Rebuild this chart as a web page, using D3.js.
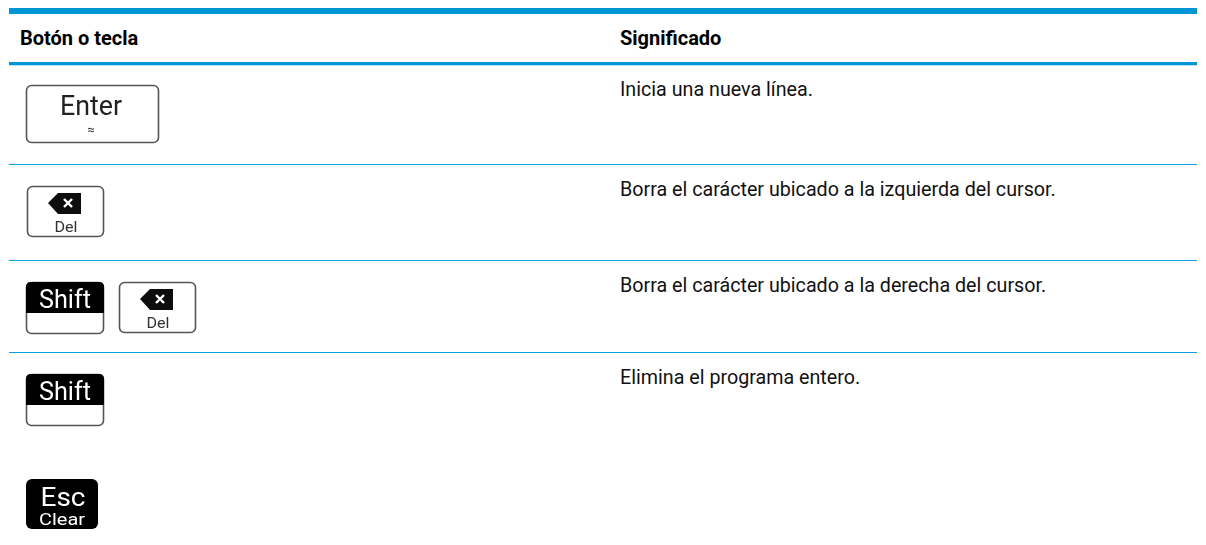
<!DOCTYPE html>
<html>
<head>
<meta charset="utf-8">
<script src="https://cdn.jsdelivr.net/npm/d3@7"></script>
<style>
html, body { margin: 0; padding: 0; background: #fff; }
svg { display: block; }
text { font-family: Roboto, "Noto Sans", sans-serif; }
</style>
</head>
<body>
<svg id="viz"></svg>
<script>
const width = 1206, height = 545;

const columns = ["Botón o tecla", "Significado"];
const meanings = [
  "Inicia una nueva línea.",
  "Borra el carácter ubicado a la izquierda del cursor.",
  "Borra el carácter ubicado a la derecha del cursor.",
  "Elimina el programa entero."
];
// keys drawn in each row
const rowKeys = [["enter"], ["del"], ["shift", "del"], ["shift"], ["esc"]];

const rowRules = [164, 260, 352];
const textBase = [96, 196, 292, 384];
const keyX = [26, 119];
const keyY = [85, 186, 282, 374, 479];

const svg = d3.select("#viz").attr("width", width).attr("height", height);
const blue = "#0096d6";

// keys in the original are small bitmaps, so soften them a bit
svg.append("defs").append("filter").attr("id", "soft")
  .append("feGaussianBlur").attr("stdDeviation", 0.45);

// rules
svg.append("rect").attr("x", 9).attr("y", 8).attr("width", 1188).attr("height", 6).attr("fill", blue);
svg.append("rect").attr("x", 9).attr("y", 62).attr("width", 1188).attr("height", 3).attr("fill", blue);
svg.append("rect").attr("x", 9).attr("y", 65).attr("width", 1188).attr("height", 1).attr("fill", "#b5e3f5");
svg.selectAll("line.row")
  .data(rowRules)
  .enter()
  .append("line")
  .attr("class", "row")
  .attr("x1", 9).attr("x2", 1197)
  .attr("y1", d => d + 0.5).attr("y2", d => d + 0.5)
  .attr("stroke", "#0aa0e0");

// header
svg.selectAll("text.head")
  .data(columns)
  .enter()
  .append("text")
  .attr("class", "head")
  .attr("x", (d, i) => i === 0 ? 20 : 620)
  .attr("y", 45)
  .attr("font-size", 20)
  .attr("font-weight", 700)
  .attr("fill", "#000")
  .text(d => d);

// meanings
svg.selectAll("text.mean")
  .data(meanings)
  .enter()
  .append("text")
  .attr("class", "mean")
  .attr("x", 620)
  .attr("y", (d, i) => textBase[i])
  .attr("font-size", 19.7)
  .attr("fill", "#111")
  .text(d => d);

// keys
function outlined(g, w, h) {
  g.append("rect").attr("x", 0.5).attr("y", 0.5).attr("width", w).attr("height", h).attr("rx", 5)
    .attr("fill", "#fff").attr("stroke", "#555").attr("stroke-width", 1.6);
}
function label(g, x, y, size, fill, txt, len) {
  const t = g.append("text").attr("x", x).attr("y", y).attr("text-anchor", "middle")
    .attr("font-size", size).attr("fill", fill).text(txt);
  if (len) t.attr("textLength", len).attr("lengthAdjust", "spacingAndGlyphs");
}
function drawEnter(g) {
  outlined(g, 132, 57);
  label(g, 65, 30, 27, "#222", "Enter", 62);
  label(g, 65, 49, 13, "#333", "≈");
}
function drawDel(g) {
  outlined(g, 76, 50);
  g.append("path").attr("d", "M21 17 L31 7 H54 V28 H31 Z").attr("fill", "#111");
  g.append("path").attr("d", "M37 13 L45 21 M45 13 L37 21").attr("stroke", "#fff").attr("stroke-width", 2.4);
  label(g, 39, 46, 14, "#333", "Del", 23);
}
function drawShift(g) {
  outlined(g, 77, 51);
  g.append("path").attr("d", "M0 31 V5 Q0 0 5 0 H73 Q78 0 78 5 V31 Z").attr("fill", "#000");
  label(g, 39, 26, 25, "#fff", "Shift", 52);
}
function drawEsc(g) {
  g.append("rect").attr("width", 72).attr("height", 50).attr("rx", 6).attr("fill", "#000");
  label(g, 37, 27, 26, "#fff", "Esc", 45);
  label(g, 36, 46, 16, "#fff", "Clear", 46);
}
const drawers = { enter: drawEnter, del: drawDel, shift: drawShift, esc: drawEsc };
rowKeys.forEach((keys, r) => {
  keys.forEach((k, i) => {
    const x = k === "del" && i === 0 ? 27 : keyX[i];
    const g = svg.append("g")
      .attr("transform", `translate(${x},${keyY[r]})`)
      .attr("filter", "url(#soft)");
    drawers[k](g);
  });
});
</script>
</body>
</html>
